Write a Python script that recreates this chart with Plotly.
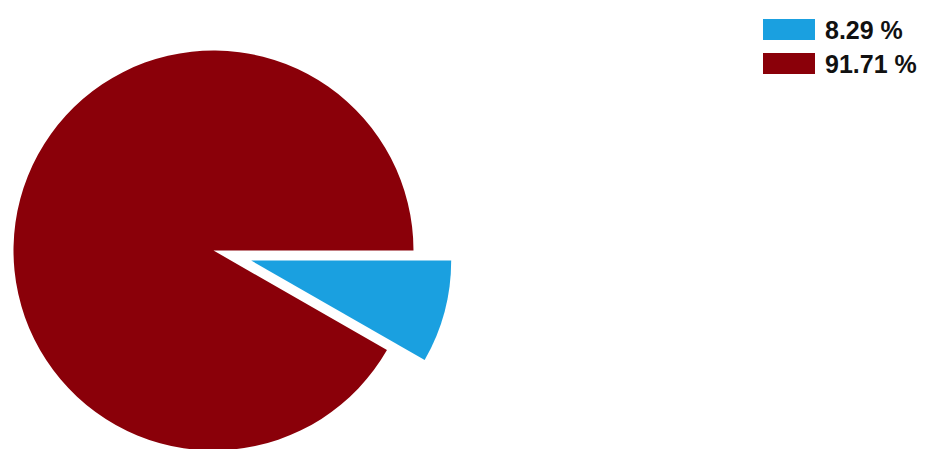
import math
import plotly.graph_objects as go

# ---- data ----
labels = ["8.29 %", "91.71 %"]
values = [8.29, 91.71]
colors = ["#1aa0e0", "#8a0009"]

# ---- layout geometry (screen pixels; page body adds an 8px offset) ----
OFF = 8
W, H = 929 - OFF, 470
cx, cy, r = 213.5, 250.5, 200
pull_px = 39
FONT = "Liberation Sans, Arial, sans-serif"


def dom(cx_, cy_, r_):
    cx_, cy_ = cx_ - OFF, cy_ - OFF
    return dict(x=[(cx_ - r_) / W, (cx_ + r_) / W],
                y=[1 - (cy_ + r_) / H, 1 - (cy_ - r_) / H])


total = sum(values)
mid = math.radians(360 * values[0] / total / 2)
ox, oy = pull_px * math.cos(mid), pull_px * math.sin(mid)

fig = go.Figure()
# main (non-exploded) slice
fig.add_trace(go.Pie(
    labels=labels, values=values, sort=False, direction="clockwise", rotation=90,
    marker=dict(colors=["rgba(0,0,0,0)", colors[1]], line=dict(width=0)),
    textinfo="none", domain=dom(cx, cy, r), showlegend=False, hoverinfo="label"))
# exploded slice
fig.add_trace(go.Pie(
    labels=labels, values=values, sort=False, direction="clockwise", rotation=90,
    marker=dict(colors=[colors[0], "rgba(0,0,0,0)"], line=dict(width=0)),
    textinfo="none", domain=dom(cx + ox, cy + oy, r), showlegend=False, hoverinfo="label"))

# custom legend
shapes, annots = [], []
for i, (lab, col) in enumerate(zip(labels, colors)):
    top = 19 + i * 34 - OFF
    left = 763 - OFF
    shapes.append(dict(type="rect", xref="paper", yref="paper",
                       x0=left / W, x1=(left + 52) / W, y0=1 - (top + 21) / H, y1=1 - top / H,
                       fillcolor=col, line=dict(width=0)))
    annots.append(dict(x=(left + 60) / W, y=1 - (top + 10.5) / H, xref="paper", yref="paper",
                       text="<b>%s</b>" % lab, showarrow=False, xanchor="left", yanchor="middle",
                       font=dict(family=FONT, size=25, color="#111111")))

fig.update_layout(width=W, height=H, margin=dict(l=0, r=0, t=0, b=0),
                  paper_bgcolor="white", plot_bgcolor="white",
                  shapes=shapes, annotations=annots, font=dict(family=FONT))
fig.write_html("out.html")
